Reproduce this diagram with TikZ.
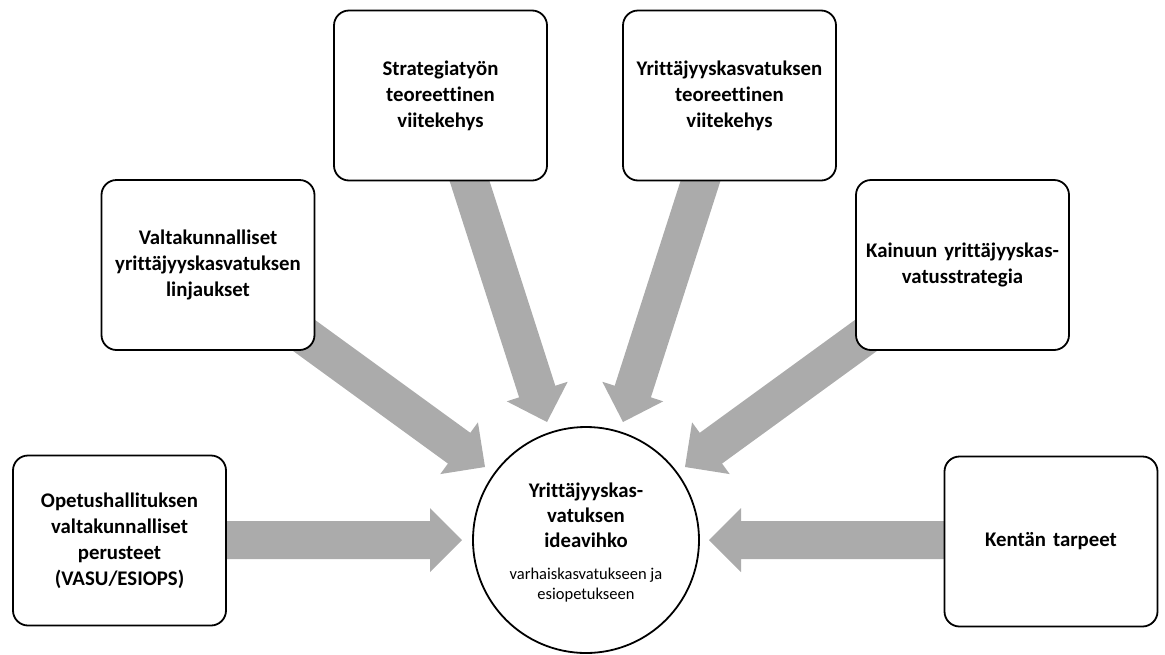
\documentclass[tikz,border=0pt]{standalone}
\usepackage{fontspec}
\setmainfont{Carlito}[Ligatures={NoCommon}]
\usetikzlibrary{calc}
\definecolor{arrowgray}{RGB}{171,171,171}
\tikzset{
  srcbox/.style={draw=black, line width=1.8pt, rounded corners=15pt, fill=white,
    minimum width=213pt, minimum height=170pt, inner sep=0pt, text width=205pt,
    align=center, font=\fontsize{20.8}{26}\selectfont\bfseries},
  hub/.style={draw=black, line width=1.8pt, circle, fill=white, minimum size=226pt, inner sep=0pt},
  hubtitle/.style={align=center, font=\fontsize{20.8}{25}\selectfont\bfseries},
  hubsub/.style={align=center, font=\fontsize{16.5}{20}\selectfont},
}
\newcommand{\fatarrow}[2]{%
  \coordinate (#1h) at ($(#2)!32pt!(#1)$);
  \fill[arrowgray] ($(#1)!19pt!90:(#2)$) -- ($(#1h)!19pt!-90:(#1)$) -- ($(#1h)!32pt!-90:(#1)$)
    -- (#2) -- ($(#1h)!32pt!90:(#1)$) -- ($(#1h)!19pt!90:(#1)$) -- ($(#1)!19pt!-90:(#2)$) -- cycle;
}
\begin{document}
\begin{tikzpicture}[x=1pt,y=-1pt]
\useasboundingbox (0,0) rectangle (1165,654);
% arrow endpoints
\coordinate (a1s) at (200,540);   \coordinate (a1t) at (462,540);
\coordinate (a2s) at (300,332.5); \coordinate (a2t) at (485,467);
\coordinate (a3s) at (466,170);   \coordinate (a3t) at (547,422);
\coordinate (a4s) at (704,170);   \coordinate (a4t) at (623,422);
\coordinate (a5s) at (870,332.5); \coordinate (a5t) at (685,467);
\coordinate (a6s) at (970,540);   \coordinate (a6t) at (709,540);
\fatarrow{a1s}{a1t}
\fatarrow{a2s}{a2t}
\fatarrow{a3s}{a3t}
\fatarrow{a4s}{a4t}
\fatarrow{a5s}{a5t}
\fatarrow{a6s}{a6t}
% boxes
\node[srcbox] (b1) at (119.5,540.5) {Opetushallituksen\\valtakunnalliset\\perusteet\\(VASU/ESIOPS)};
\node[srcbox] (b2) at (208,265) {Valtakunnalliset\\yrittäjyyskasvatuksen\\linjaukset};
\node[srcbox] (b3) at (440.5,95.5) {Strategiatyön\\teoreettinen\\viitekehys};
\node[srcbox] (b4) at (729.5,95.5) {Yrittäjyyskasvatuksen\\teoreettinen\\viitekehys};
\node[srcbox] (b5) at (962.5,265) {Kainuun yrittäjyyskas-\\vatusstrategia};
\node[srcbox] (b6) at (1051,541.5) {Kentän tarpeet};
% hub
\node[hub] (hub) at (586,540) {};
\node[hubtitle] (hubt) at (586,515) {Yrittäjyyskas-\\vatuksen\\ideavihko};
\node[hubsub] (hubs) at (586,585) {varhaiskasvatukseen ja\\esiopetukseen};
\end{tikzpicture}
\end{document}
